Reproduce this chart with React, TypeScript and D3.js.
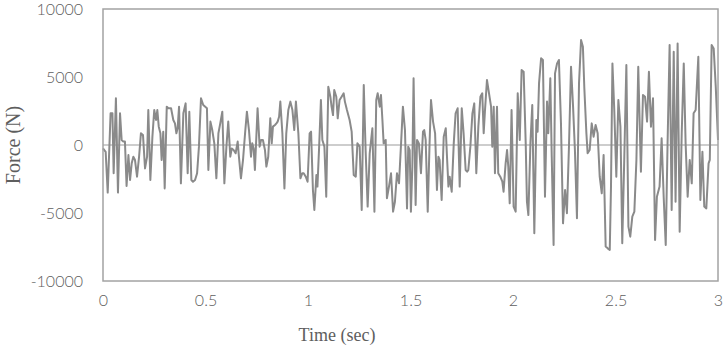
import React, { useEffect, useRef } from 'react';
import * as d3 from 'd3';

// time (sec) and force (N)
const time = [
  0.000, 0.013, 0.023, 0.037, 0.046, 0.052, 0.063, 0.073, 0.083, 0.091, 0.099, 0.107, 0.115, 0.124, 0.132, 0.140,
  0.148, 0.156, 0.166, 0.176, 0.185, 0.195, 0.205, 0.215, 0.221, 0.231, 0.241, 0.250, 0.259, 0.265, 0.272, 0.280,
  0.286, 0.294, 0.301, 0.311, 0.319, 0.332, 0.343, 0.351, 0.358, 0.364, 0.371, 0.380, 0.392, 0.403, 0.413, 0.421,
  0.431, 0.439, 0.449, 0.459, 0.468, 0.478, 0.489, 0.507, 0.514, 0.524, 0.533, 0.543, 0.553, 0.563, 0.572, 0.582,
  0.592, 0.602, 0.611, 0.621, 0.628, 0.637, 0.647, 0.657, 0.663, 0.673, 0.683, 0.693, 0.702, 0.712, 0.722, 0.728,
  0.735, 0.741, 0.748, 0.754, 0.764, 0.771, 0.780, 0.790, 0.797, 0.806, 0.816, 0.823, 0.829, 0.839, 0.846, 0.852,
  0.859, 0.865, 0.875, 0.885, 0.894, 0.904, 0.914, 0.924, 0.933, 0.941, 0.953, 0.963, 0.972, 0.979, 0.989, 0.998,
  1.008, 1.015, 1.024, 1.031, 1.041, 1.046, 1.054, 1.063, 1.070, 1.080, 1.089, 1.099, 1.109, 1.115, 1.122, 1.128,
  1.138, 1.145, 1.154, 1.164, 1.174, 1.180, 1.190, 1.203, 1.213, 1.223, 1.233, 1.241, 1.252, 1.262, 1.272, 1.281,
  1.291, 1.301, 1.314, 1.324, 1.333, 1.340, 1.350, 1.356, 1.363, 1.369, 1.379, 1.385, 1.395, 1.405, 1.415, 1.424,
  1.434, 1.444, 1.454, 1.463, 1.473, 1.483, 1.489, 1.496, 1.502, 1.509, 1.515, 1.525, 1.532, 1.541, 1.551, 1.561,
  1.567, 1.574, 1.584, 1.593, 1.600, 1.610, 1.620, 1.629, 1.636, 1.642, 1.652, 1.662, 1.672, 1.678, 1.685, 1.691,
  1.701, 1.711, 1.720, 1.730, 1.740, 1.750, 1.759, 1.769, 1.776, 1.782, 1.792, 1.802, 1.811, 1.821, 1.831, 1.841,
  1.850, 1.857, 1.863, 1.873, 1.883, 1.893, 1.899, 1.906, 1.912, 1.922, 1.928, 1.938, 1.948, 1.954, 1.964, 1.971,
  1.977, 1.984, 1.993, 2.003, 2.013, 2.023, 2.033, 2.042, 2.052, 2.062, 2.068, 2.075, 2.085, 2.094, 2.104, 2.114,
  2.120, 2.127, 2.137, 2.146, 2.156, 2.166, 2.172, 2.182, 2.189, 2.198, 2.205, 2.215, 2.224, 2.234, 2.244, 2.254,
  2.263, 2.273, 2.283, 2.293, 2.302, 2.312, 2.322, 2.332, 2.341, 2.348, 2.358, 2.364, 2.374, 2.384, 2.393, 2.403,
  2.413, 2.423, 2.433, 2.442, 2.452, 2.462, 2.472, 2.478, 2.485, 2.494, 2.504, 2.514, 2.524, 2.533, 2.543, 2.553,
  2.563, 2.572, 2.582, 2.592, 2.602, 2.611, 2.624, 2.634, 2.644, 2.654, 2.663, 2.673, 2.683, 2.693, 2.702, 2.715,
  2.725, 2.735, 2.745, 2.754, 2.764, 2.774, 2.784, 2.793, 2.803, 2.813, 2.823, 2.833, 2.842, 2.852, 2.862, 2.872,
  2.881, 2.891, 2.904, 2.914, 2.924, 2.933, 2.943, 2.954, 2.960, 2.969, 2.979, 2.989, 3.000,
];

const force = [
  -250, -500, -3500, 2330, 2330, -2080, 3430, -3500, 2330, 370, 250, 250, -3010, -740, -2570, -1350,
  -860, -1100, -2330, -860, 860, 740, -1720, -860, 2570, -2570, 610, 2570, 1840, 2570, 1350, 860,
  -1100, 980, -3190, 2820, 2700, 2700, 1840, 1590, 860, 1230, 2820, -2820, 2330, 3060, -2080, 2450,
  -2570, -2700, -2570, -2080, -120, 3430, 2940, 2700, -1840, 1720, 1100, 120, -2450, 860, 1590, 2450,
  -2820, -120, 1720, -860, -250, -370, -610, 250, -860, -2450, -1100, 860, 2450, 1100, -860, 120,
  -250, -1840, 610, 2700, -120, 370, 370, -370, -1590, -860, 1960, 120, 1350, 1470, 1590, 1720,
  2080, 3190, 860, -3190, 860, 2570, 3190, 2570, 1100, 3190, 860, -2450, -2080, -2080, -2330, -2700,
  860, 980, -3310, -4780, -2200, -3060, -250, 3310, 370, -120, -3800, 4290, 3550, 2820, 2200, 4040,
  3550, 1960, 3310, 3550, 3800, 3190, 2570, 1840, 980, -2200, -2330, 120, -120, -4780, 4410, -370,
  -4530, -610, 1230, -4900, 3310, 3800, 2820, 3680, 1840, 120, 370, -3920, -3060, -2080, -4900, -4170,
  -2080, -2820, 120, 2820, 1100, -4660, -120, -370, -4900, -1590, 4900, -4410, 370, 120, -2080, 980,
  1100, 370, -4900, 120, 3310, 1720, 860, -3310, -860, -1100, -4040, 610, 1230, -860, -3060, -2330,
  -3430, 120, 2330, 2700, -3060, 2700, 860, -1840, -1960, -1840, -120, 2330, 3060, -2080, 1350, 3550,
  3800, 860, 2450, 4780, 3800, 2820, -120, 2820, -2080, 2820, -2080, -2330, -2700, -3430, -1350, -370,
  -1590, -4290, 2570, -4530, -4900, 3800, 370, 5510, 5390, 120, -4170, -5150, 120, 2940, -6490, 1840,
  980, 4530, 6370, 6250, -3800, 3190, 860, 4900, -860, -7350, 5270, 6000, 6250, 1590, -5760, -3310,
  -5020, -120, 5760, 2820, -370, -5390, 4530, 7720, 7230, 4170, 860, -610, -370, 1590, 610, 1470,
  860, -2330, -3550, -740, -7470, -7600, -7720, -3060, 6000, 2570, -2330, 3310, 1350, -7230, -860, 5880,
  -6000, -6740, -5270, -4900, -1100, 5760, -1960, 3680, 3550, 1720, 5390, 1350, 3430, -6980, -3800, -3060,
  490, -3800, -7350, 120, 7350, -4780, 6860, -4170, 7470, -6370, 860, 6000, 120, -3800, -1100, -2820,
  2330, 2570, 6490, -4040, -490, -4530, -4660, -1350, -1100, 7350, 7100, 4290, 370,
];

const yTicks = [-10000, -5000, 0, 5000, 10000];
const xTicks = [0, 0.5, 1, 1.5, 2, 2.5, 3];

const App = () => {
  const ref = useRef<SVGSVGElement>(null);

  useEffect(() => {
    const width = 726, height = 354;
    const margin = { top: 9, right: 8, bottom: 73, left: 103 };

    const svg = d3.select(ref.current);
    svg.selectAll('*').remove();

    const x = d3.scaleLinear().domain([0, 3]).range([margin.left, width - margin.right]);
    const y = d3.scaleLinear().domain([-10000, 10000]).range([height - margin.bottom, margin.top]);

    const labelFont = 'Lato, "Open Sans", sans-serif';
    const textColor = '#5e5e5e';

    // zero line
    svg.append('line')
      .attr('x1', x(0)).attr('x2', x(3))
      .attr('y1', y(0)).attr('y2', y(0))
      .attr('stroke', '#bdbdbd')
      .attr('stroke-width', 1.5);

    const data = time.map((t, i) => ({ t, f: force[i] }));
    const line = d3.line<{ t: number; f: number }>()
      .x(d => x(d.t))
      .y(d => y(d.f));

    svg.append('path')
      .datum(data)
      .attr('fill', 'none')
      .attr('stroke', '#8a8a8a')
      .attr('stroke-width', 2)
      .attr('stroke-linejoin', 'round')
      .attr('d', line);

    // plot border
    svg.append('rect')
      .attr('x', x(0)).attr('y', y(10000))
      .attr('width', x(3) - x(0))
      .attr('height', y(-10000) - y(10000))
      .attr('fill', 'none')
      .attr('stroke', '#a3a3a3')
      .attr('stroke-width', 1.5);

    const yAxis = svg.append('g')
      .attr('transform', `translate(${x(0) - 20},0)`)
      .call(d3.axisLeft(y).tickValues(yTicks).tickSize(0).tickPadding(0).tickFormat(d => String(d)));
    yAxis.select('.domain').remove();
    yAxis.selectAll('text')
      .attr('font-family', labelFont)
      .attr('font-weight', 300)
      .attr('font-size', 16)
      .attr('fill', textColor);

    const xAxis = svg.append('g')
      .attr('transform', `translate(0,${y(-10000) + 14})`)
      .call(d3.axisBottom(x).tickValues(xTicks).tickSize(0).tickPadding(0).tickFormat(d => String(d)));
    xAxis.select('.domain').remove();
    xAxis.selectAll('text')
      .attr('font-family', labelFont)
      .attr('font-weight', 300)
      .attr('font-size', 16)
      .attr('fill', textColor);

    svg.append('text')
      .attr('x', 337)
      .attr('y', 341)
      .attr('text-anchor', 'middle')
      .attr('font-family', '"Liberation Serif", serif')
      .attr('font-size', 18)
      .attr('fill', textColor)
      .text('Time (sec)');

    svg.append('text')
      .attr('transform', `translate(20,${y(0)}) rotate(-90)`)
      .attr('text-anchor', 'middle')
      .attr('font-family', '"Liberation Serif", serif')
      .attr('font-size', 20)
      .attr('fill', textColor)
      .text('Force (N)');
  }, []);

  return (
    <svg ref={ref} width={726} height={354}
      style={{ position: 'absolute', left: 0, top: 0, background: '#fff' }} />
  );
};

export default App;
